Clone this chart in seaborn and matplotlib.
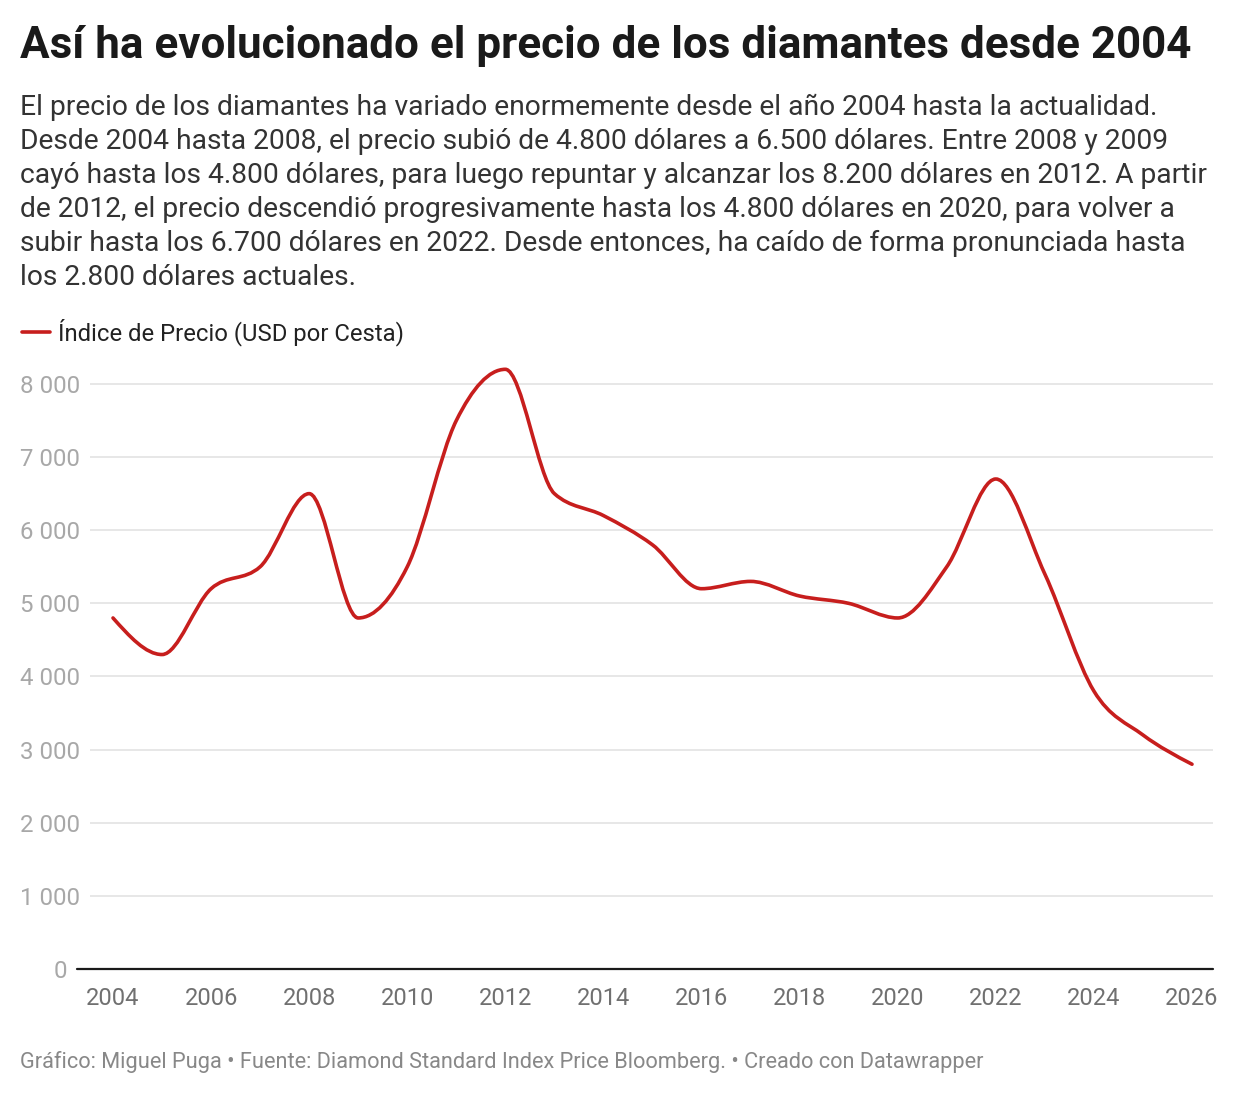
import numpy as np
import seaborn as sns
import matplotlib
matplotlib.use("Agg")
import matplotlib.pyplot as plt
from matplotlib.path import Path
from matplotlib.patches import PathPatch
from matplotlib.lines import Line2D
from matplotlib.ticker import FuncFormatter
from matplotlib.transforms import ScaledTranslation

# data (yearly points)
years = [2004, 2005, 2006, 2007, 2008, 2009, 2010, 2011, 2012, 2013, 2014,
         2015, 2016, 2017, 2018, 2019, 2020, 2021, 2022, 2023, 2024, 2025, 2026]
prices = [4800, 4300, 5200, 5500, 6500, 4800, 5500, 7500, 8200, 6500, 6200,
          5800, 5200, 5300, 5100, 5000, 4800, 5500, 6700, 5400, 3800, 3200, 2800]
x_ticks = list(range(2004, 2027, 2))
y_ticks = list(range(0, 8001, 1000))

title = "Así ha evolucionado el precio de los diamantes desde 2004"
subtitle_lines = [
    "El precio de los diamantes ha variado enormemente desde el año 2004 hasta la actualidad.",
    "Desde 2004 hasta 2008, el precio subió de 4.800 dólares a 6.500 dólares. Entre 2008 y 2009",
    "cayó hasta los 4.800 dólares, para luego repuntar y alcanzar los 8.200 dólares en 2012. A partir",
    "de 2012, el precio descendió progresivamente hasta los 4.800 dólares en 2020, para volver a",
    "subir hasta los 6.700 dólares en 2022. Desde entonces, ha caído de forma pronunciada hasta",
    "los 2.800 dólares actuales.",
]
series_name = "Índice de Precio (USD por Cesta)"
footer = "Gráfico: Miguel Puga • Fuente: Diamond Standard Index Price Bloomberg. • Creado con Datawrapper"

RED = "#c71e1d"

sns.set_theme(style="white")
plt.rcParams["font.family"] = ["Roboto", "DejaVu Sans"]


def monotone_path(xs, ys):
    # bezier path like d3.curveMonotoneX
    xs = np.asarray(xs, float)
    ys = np.asarray(ys, float)
    n = len(xs)
    h = np.diff(xs)
    s = np.diff(ys) / h
    t = np.zeros(n)
    for i in range(1, n - 1):
        p = (s[i - 1] * h[i] + s[i] * h[i - 1]) / (h[i - 1] + h[i])
        t[i] = (np.sign(s[i - 1]) + np.sign(s[i])) * min(abs(s[i - 1]), abs(s[i]), 0.5 * abs(p))
    t[0] = (3 * s[0] - t[1]) / 2
    t[-1] = (3 * s[-1] - t[-2]) / 2
    verts = [(xs[0], ys[0])]
    codes = [Path.MOVETO]
    for i in range(n - 1):
        dx = h[i] / 3
        verts += [(xs[i] + dx, ys[i] + dx * t[i]),
                  (xs[i + 1] - dx, ys[i + 1] - dx * t[i + 1]),
                  (xs[i + 1], ys[i + 1])]
        codes += [Path.CURVE4] * 3
    return Path(verts, codes)


fig = plt.figure(figsize=(12.4, 10.96), dpi=100)
W, H = 1240, 1096
# axes box in pixels: left 90, right 1213, bottom 969, top 362
ax = fig.add_axes([90 / W, 1 - 969 / H, (1213 - 90) / W, (969 - 362) / H])

ax.add_patch(PathPatch(monotone_path(years, prices), facecolor="none",
                       edgecolor=RED, lw=2.6, capstyle="round", joinstyle="round", zorder=3))

ax.set_xlim(2004 - 23 / 49.05, 2026 + 21 / 49.05)
ax.set_ylim(0, 8300)
ax.set_xticks(x_ticks)
ax.set_yticks(y_ticks)
ax.yaxis.set_major_formatter(FuncFormatter(lambda v, _: f"{int(v):,}".replace(",", " ")))
ax.grid(axis="y", color="#e3e3e3", lw=1.2)
ax.grid(axis="x", visible=False)
sns.despine(ax=ax, left=True, bottom=True)
ax.tick_params(axis="both", length=0)
ax.tick_params(axis="y", labelsize=17.3, labelcolor="#a8a8a8", pad=7)
ax.tick_params(axis="x", labelsize=17, labelcolor="#707070", pad=13)
for lbl in ax.get_yticklabels():
    lbl.set_horizontalalignment("right")
# the zero label sits left of the extended baseline
zero_lbl = ax.yaxis.get_major_ticks()[0].label1
zero_lbl.set_transform(zero_lbl.get_transform() + ScaledTranslation(-0.13, 0, fig.dpi_scale_trans))

# baseline
ax.add_line(Line2D([-13 / 1123, 1], [0, 0], transform=ax.transAxes, color="#1a1a1a",
                   lw=1.6, clip_on=False, zorder=4))

# title, subtitle, legend, footer
fig.text(20 / W, 1 - 46 / H, title, fontsize=31.7, fontweight="bold", color="#1a1a1a",
         va="center", ha="left")
for i, line in enumerate(subtitle_lines):
    fig.text(20 / W, 1 - (107 + 34.2 * i) / H, line, fontsize=20.3, color="#333333",
             va="center", ha="left")
fig.add_artist(Line2D([22 / W, 50 / W], [1 - 332 / H, 1 - 332 / H], color=RED, lw=2.6,
                      solid_capstyle="round"))
fig.text(58 / W, 1 - 332 / H, series_name, fontsize=17.2, color="#222222",
         va="center", ha="left")
fig.text(20 / W, 1 - 1062 / H, footer, fontsize=15.7, color="#888888",
         va="center", ha="left")

fig.savefig("out.png", dpi=100, facecolor="white")
